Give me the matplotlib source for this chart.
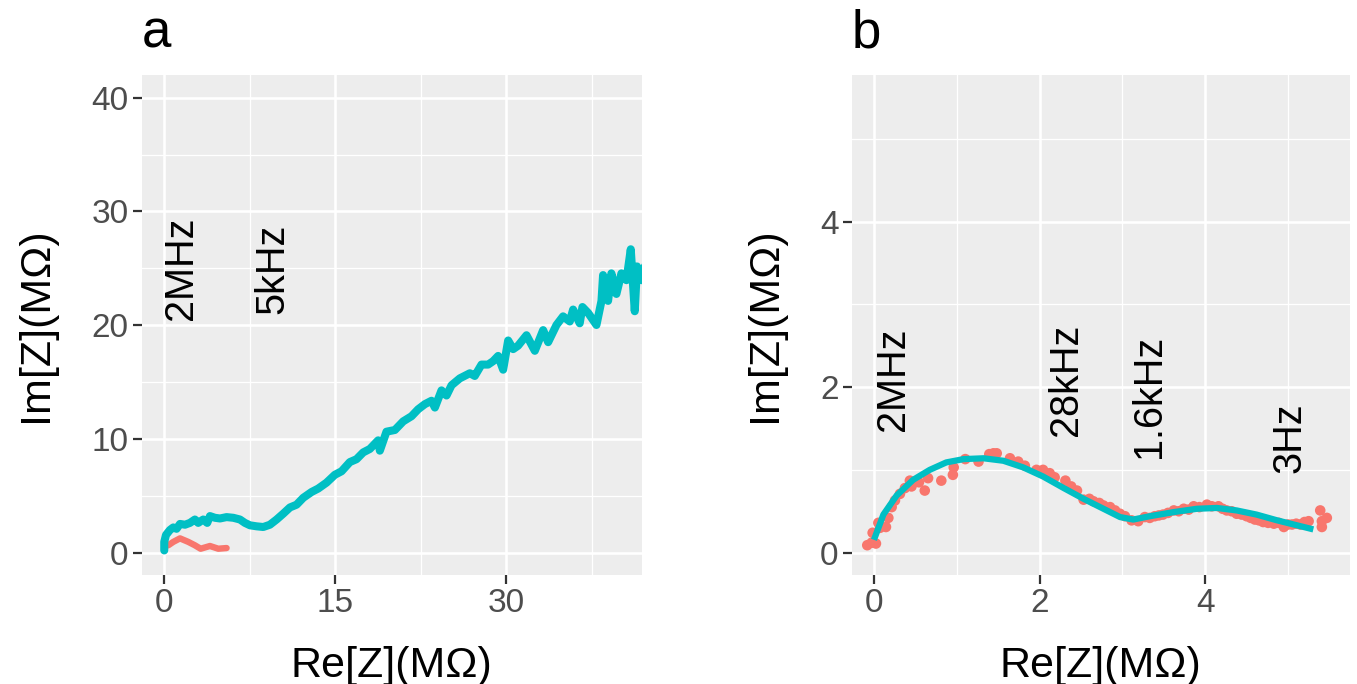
import matplotlib
matplotlib.use("Agg")
import matplotlib.pyplot as plt
import numpy as np

plt.rcParams['font.family'] = ['Liberation Sans', 'DejaVu Sans']

# ---------------- Panel a data ----------------
a_cyan_x = [0.0, 0.0, 0.15, 0.5, 0.79, 1.08, 1.38, 1.82, 2.25, 2.69, 2.98, 3.42, 3.77, 4.01,
            4.45, 4.89, 5.47, 6.06, 6.64, 7.08, 7.52, 8.1, 8.69, 9.27, 9.86, 10.44, 11.03,
            11.61, 12.2, 12.93, 13.51, 14.24, 14.97, 15.56, 16.29, 16.87, 17.46, 18.04,
            18.77, 18.92, 19.5, 20.24, 20.97, 21.7, 22.28, 22.87, 23.45, 23.75, 24.33,
            24.77, 25.21, 25.94, 26.82, 27.25, 27.84, 28.42, 28.86, 29.3, 29.74, 30.18,
            30.62, 31.05, 31.79, 32.52, 33.25, 33.69, 34.42, 35.0, 35.59, 35.88, 36.46,
            36.7, 37.2, 37.93, 38.37, 38.51, 38.95, 39.24, 39.68, 40.12, 40.56, 40.94,
            41.29, 41.49, 41.87, 42.17]
a_cyan_y = [0.2, 0.95, 1.56, 2.0, 2.22, 2.1, 2.53, 2.46, 2.62, 2.92, 2.62, 2.92, 2.62, 3.22,
            3.07, 3.01, 3.13, 3.07, 2.92, 2.62, 2.41, 2.32, 2.26, 2.46, 2.92, 3.43, 3.98,
            4.22, 4.83, 5.34, 5.64, 6.16, 6.85, 7.16, 7.97, 8.22, 8.82, 9.12,
            9.88, 8.97, 10.64, 10.79, 11.55, 12.0, 12.61, 13.06, 13.36, 12.76, 14.27,
            13.82, 14.72, 15.33, 15.78, 15.54, 16.54, 16.54, 16.84, 17.3, 16.09, 18.66,
            17.9, 18.2, 19.12, 17.75, 19.57, 18.51, 20.02, 20.78, 20.33, 21.38, 20.17,
            21.6, 21.08, 20.02, 22.14, 24.41, 22.14, 24.56, 22.75, 24.56, 23.96, 26.68,
            21.23, 25.17, 23.96, 25.17]

a_red_x = [0.35, 0.79, 1.38, 2.11, 2.69, 3.19, 4.01, 4.74, 5.47]
a_red_y = [0.65, 0.95, 1.26, 0.95, 0.65, 0.35, 0.59, 0.35, 0.41]

a_labels = ["2MHz", "5kHz"]
a_label_x = [1.5, 9.5]
a_label_y = [25.0, 25.0]

a_xticks = [0, 15, 30]
a_yticks = [0, 10, 20, 30, 40]

# ---------------- Panel b data ----------------
b_pts_x = [-0.085, -0.032, 0.02, -0.02, 0.049, 0.069, 0.141, 0.17, 0.21, 0.25, 0.31, 0.37,
           0.43, 0.45, 0.54, 0.61, 0.65, 0.81, 0.95, 0.96, 1.10, 1.26, 1.39, 1.44, 1.48,
           1.64, 1.74, 1.82, 1.96, 2.04, 2.12, 2.18, 2.31, 2.38, 2.45, 2.53, 2.6, 2.65,
           2.72, 2.77, 2.85, 2.91, 2.97, 3.03, 3.11, 3.19, 3.27, 3.33, 3.39, 3.44, 3.49,
           3.55, 3.62, 3.68, 3.74, 3.8, 3.86, 3.93, 4.02, 4.08, 4.16, 4.21, 4.26, 4.32,
           4.38, 4.44, 4.50, 4.55, 4.60, 4.65, 4.70, 4.76, 4.83, 4.89, 4.95, 5.0, 5.05,
           5.10, 5.15, 5.20, 5.25, 5.39, 5.41, 5.47, 5.41]
b_pts_y = [0.09, 0.12, 0.11, 0.24, 0.36, 0.30, 0.31, 0.42, 0.55, 0.63, 0.71, 0.78,
           0.87, 0.80, 0.85, 0.75, 0.90, 0.87, 0.94, 1.03, 1.13, 1.10, 1.19, 1.2, 1.20,
           1.14, 1.10, 1.05, 1.00, 1.00, 0.96, 0.91, 0.87, 0.8, 0.75, 0.64, 0.65, 0.62,
           0.6, 0.57, 0.55, 0.51, 0.47, 0.44, 0.39, 0.38, 0.43, 0.42, 0.44, 0.45, 0.46,
           0.48, 0.51, 0.5, 0.53, 0.52, 0.56, 0.55, 0.58, 0.56, 0.56, 0.53, 0.51, 0.5,
           0.47, 0.46, 0.44, 0.42, 0.40, 0.39, 0.37, 0.36, 0.35, 0.36, 0.31, 0.34, 0.34,
           0.35, 0.34, 0.37, 0.38, 0.51, 0.38, 0.42, 0.31]

b_fit_x = [0.009, 0.11, 0.27, 0.47, 0.67, 0.87, 1.08, 1.32, 1.56, 1.80, 2.04, 2.29, 2.53,
           2.77, 2.97, 3.13, 3.33, 3.62, 3.9, 4.14, 4.38, 4.62, 4.87, 5.27]
b_fit_y = [0.19, 0.46, 0.69, 0.88, 1.0, 1.09, 1.13, 1.14, 1.11, 1.03, 0.92, 0.78, 0.65,
           0.53, 0.43, 0.40, 0.44, 0.49, 0.53, 0.54, 0.51, 0.46, 0.39, 0.29]

b_labels = ["2MHz", "28kHz", "1.6kHz", "3Hz"]
b_label_x = [0.222, 2.318, 3.32, 5.02]
b_label_y = [2.095, 2.09, 1.89, 1.39]

b_ticks = [0, 2, 4]

RED = "#F8766D"
CYAN = "#00BFC4"
BG = "#EDEDED"

W, H = 1357, 684
fig = plt.figure(figsize=(W / 100, H / 100), dpi=100)


def style(ax, xlim, ylim, xt, yt, xminor, yminor):
    ax.set_facecolor(BG)
    ax.set_xlim(*xlim)
    ax.set_ylim(*ylim)
    ax.set_xticks(xt)
    ax.set_yticks(yt)
    ax.set_xticks(xminor, minor=True)
    ax.set_yticks(yminor, minor=True)
    ax.grid(which='major', color='white', linewidth=1.9)
    ax.grid(which='minor', color='white', linewidth=0.95)
    ax.set_axisbelow(True)
    for s in ax.spines.values():
        s.set_visible(False)
    ax.tick_params(which='major', length=6.5, width=1.6, color='#333333',
                   labelsize=24, labelcolor='#4D4D4D', pad=3)
    ax.tick_params(which='minor', length=0)


def px_rect(left, top, right, bottom):
    return [left / W, 1 - bottom / H, (right - left) / W, (bottom - top) / H]


axa = fig.add_axes(px_rect(141.7, 75, 641.7, 575))
style(axa, (-1.98, 41.9), (-1.96, 42.0), a_xticks, a_yticks,
      [7.5, 22.5, 37.5], [5, 15, 25, 35])
axa.plot(a_red_x, a_red_y, color=RED, lw=4.6, solid_capstyle='round', solid_joinstyle='round')
axa.plot(a_cyan_x, a_cyan_y, color=CYAN, lw=5.8, solid_capstyle='round', solid_joinstyle='round')
for t, x, y in zip(a_labels, a_label_x, a_label_y):
    axa.text(x, y, t, rotation=90, ha='center', va='center', fontsize=28.5, color='black')

axb = fig.add_axes(px_rect(851.7, 75, 1350, 575))
style(axb, (-0.273, 5.75), (-0.27, 5.77), b_ticks, b_ticks, [1, 3, 5], [1, 3, 5])
axb.scatter(b_pts_x, b_pts_y, s=58, color=RED, edgecolors='none', zorder=2)
axb.plot(b_fit_x, b_fit_y, color=CYAN, lw=4.5, zorder=3)
for t, x, y in zip(b_labels, b_label_x, b_label_y):
    axb.text(x, y, t, rotation=90, ha='center', va='center', fontsize=28.5, color='black')

# axis titles
for cx in [391.7, 1100.8]:
    fig.text(cx / W, 1 - 677 / H, "Re[Z](MΩ)", ha='center', va='baseline', fontsize=31)
for cx in [36, 765]:
    fig.text(cx / W, 1 - 325 / H, "Im[Z](MΩ)", ha='center', va='center', rotation=90, fontsize=31)

# tags
fig.text(142 / W, 1 - 48 / H, "a", ha='left', va='baseline', fontsize=38)
fig.text(852 / W, 1 - 48 / H, "b", ha='left', va='baseline', fontsize=38)

fig.savefig("out.png", dpi=100)
